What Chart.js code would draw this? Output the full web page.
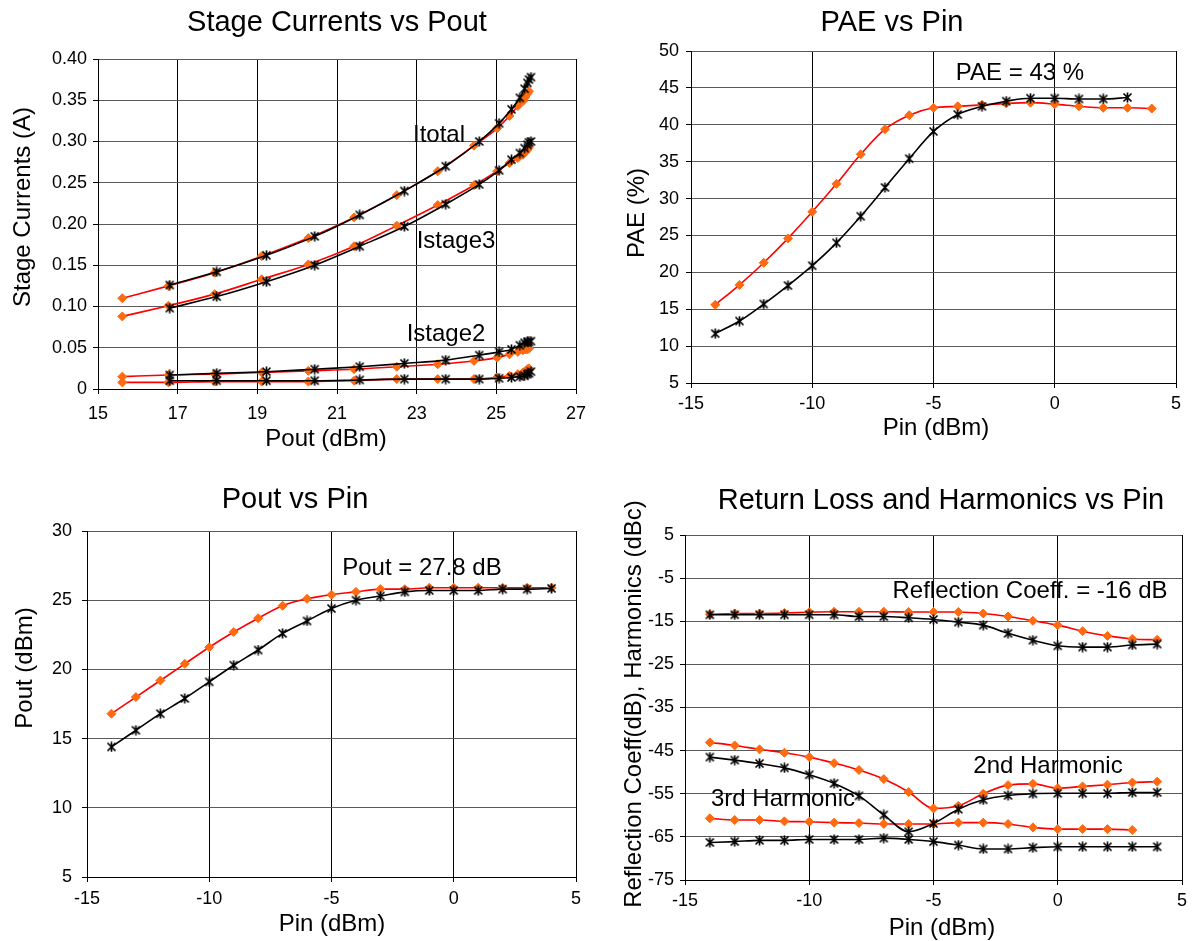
<!DOCTYPE html>
<html>
<head>
<meta charset="utf-8">
<script src="https://cdn.jsdelivr.net/npm/chart.js@4.4.1/dist/chart.umd.min.js"></script>
<style>
  html, body { margin: 0; padding: 0; background: #fff; overflow: hidden; }
  #page { position: relative; width: 1202px; height: 941px; }
  canvas { position: absolute; }
  .t { position: absolute; white-space: nowrap; line-height: 1; color: #000;
       font-family: "Liberation Sans", Arial, sans-serif; transform: translate(-50%, -50%); }
  .title { font-size: 29px; }
  .ax { font-size: 24px; }
  .rot { transform: translate(-50%, -50%) rotate(-90deg); }
  .note { font-size: 24px; }
</style>
</head>
<body>
<div id="page">
  <canvas id="c1" width="600" height="460" style="left:0;top:0"></canvas>
  <canvas id="c2" width="602" height="460" style="left:600px;top:0"></canvas>
  <canvas id="c3" width="600" height="481" style="left:0;top:460px"></canvas>
  <canvas id="c4" width="602" height="481" style="left:600px;top:460px"></canvas>

  <div class="t title" style="left:337px;top:21px">Stage Currents vs Pout</div>
  <div class="t ax rot" style="left:22px;top:207px">Stage Currents (A)</div>
  <div class="t ax" style="left:326px;top:438px">Pout (dBm)</div>
  <div class="t note" style="left:439px;top:134px">Itotal</div>
  <div class="t note" style="left:456px;top:240px">Istage3</div>
  <div class="t note" style="left:446px;top:333px">Istage2</div>

  <div class="t title" style="left:892px;top:21px">PAE vs Pin</div>
  <div class="t ax rot" style="left:636px;top:213px">PAE (%)</div>
  <div class="t ax" style="left:936px;top:427px">Pin (dBm)</div>
  <div class="t note" style="left:1020px;top:72px">PAE = 43 %</div>

  <div class="t title" style="left:295px;top:498px">Pout vs Pin</div>
  <div class="t ax rot" style="left:24px;top:668px">Pout (dBm)</div>
  <div class="t ax" style="left:332px;top:923px">Pin (dBm)</div>
  <div class="t note" style="left:422px;top:567px">Pout = 27.8 dB</div>

  <div class="t title" style="left:941px;top:499px">Return Loss and Harmonics vs Pin</div>
  <div class="t ax rot" style="left:633px;top:704px">Reflection Coeff(dB), Harmonics (dBc)</div>
  <div class="t ax" style="left:942px;top:927px">Pin (dBm)</div>
  <div class="t note" style="left:1030px;top:590px">Reflection Coeff. = -16 dB</div>
  <div class="t note" style="left:1048px;top:765px">2nd Harmonic</div>
  <div class="t note" style="left:783px;top:798px">3rd Harmonic</div>
</div>
<script>
// ---- Stage currents vs Pout ----
const poutRed = [15.61, 16.77, 17.93, 19.11, 20.28, 21.43, 22.50, 23.53, 24.44, 25.02, 25.33, 25.54, 25.67, 25.73, 25.78, 25.82];
const poutBlack = [16.80, 17.98, 19.23, 20.44, 21.57, 22.69, 23.73, 24.57, 25.07, 25.38, 25.59, 25.71, 25.78, 25.82, 25.87];
const itotalRed = [0.110, 0.125, 0.141, 0.161, 0.183, 0.208, 0.235, 0.264, 0.295, 0.316, 0.331, 0.343, 0.349, 0.354, 0.358, 0.361];
const itotalBlack = [0.126, 0.142, 0.162, 0.185, 0.211, 0.240, 0.270, 0.300, 0.322, 0.339, 0.353, 0.364, 0.371, 0.375, 0.378];
const istage3Red = [0.088, 0.101, 0.115, 0.133, 0.151, 0.173, 0.198, 0.223, 0.247, 0.264, 0.274, 0.280, 0.284, 0.287, 0.290, 0.293];
const istage3Black = [0.098, 0.112, 0.130, 0.150, 0.173, 0.197, 0.224, 0.248, 0.265, 0.278, 0.286, 0.292, 0.296, 0.299, 0.300];
const istage2Red = [0.015, 0.017, 0.018, 0.020, 0.022, 0.024, 0.027, 0.030, 0.034, 0.038, 0.042, 0.045, 0.047, 0.048, 0.048, 0.049];
const istage2Black = [0.017, 0.019, 0.021, 0.024, 0.027, 0.031, 0.035, 0.041, 0.045, 0.048, 0.053, 0.056, 0.057, 0.057, 0.058];
const istage1Red = [0.008, 0.008, 0.009, 0.009, 0.009, 0.010, 0.012, 0.012, 0.012, 0.014, 0.016, 0.018, 0.020, 0.022, 0.024, 0.025];
const istage1Black = [0.010, 0.010, 0.010, 0.010, 0.011, 0.012, 0.012, 0.012, 0.013, 0.014, 0.015, 0.016, 0.018, 0.019, 0.021];

// ---- Pin sweeps ----
const pinFull = [-14, -13, -12, -11, -10, -9, -8, -7, -6, -5, -4, -3, -2, -1, 0, 1, 2, 3, 4];
const pinTo3 = [-14, -13, -12, -11, -10, -9, -8, -7, -6, -5, -4, -3, -2, -1, 0, 1, 2, 3];

const paeRed = [15.6, 18.3, 21.3, 24.6, 28.2, 32.0, 36.0, 39.4, 41.3, 42.3, 42.5, 42.7, 42.9, 43.0, 42.8, 42.5, 42.3, 42.3, 42.2];
const paeBlack = [11.7, 13.4, 15.7, 18.2, 20.9, 24.0, 27.6, 31.5, 35.4, 39.1, 41.4, 42.5, 43.2, 43.6, 43.6, 43.5, 43.5, 43.7];

const poutPinRed = [16.8, 18.0, 19.2, 20.4, 21.6, 22.7, 23.7, 24.6, 25.1, 25.4, 25.6, 25.8, 25.8, 25.9, 25.9, 25.9, 25.9, 25.9, 25.9];
const poutPinBlack = [14.4, 15.6, 16.8, 17.9, 19.1, 20.3, 21.4, 22.6, 23.5, 24.4, 25.0, 25.3, 25.6, 25.7, 25.7, 25.7, 25.8, 25.8, 25.85];

const reflRed = [-13.4, -13.2, -13.2, -13.1, -12.9, -12.8, -12.8, -12.8, -12.85, -12.85, -12.85, -13.2, -13.9, -14.9, -15.9, -17.3, -18.4, -19.1, -19.3];
const reflBlack = [-13.5, -13.5, -13.5, -13.5, -13.5, -13.5, -13.9, -13.9, -14.2, -14.6, -15.2, -15.9, -17.8, -19.4, -20.7, -21.0, -21.0, -20.5, -20.3];
const h2Red = [-43.1, -43.8, -44.7, -45.5, -46.5, -47.9, -49.5, -51.6, -54.6, -58.4, -57.8, -55.0, -53.0, -52.7, -53.7, -53.3, -52.9, -52.4, -52.2];
const h2Black = [-46.5, -47.2, -48.0, -49.0, -50.6, -52.6, -55.5, -59.9, -63.8, -61.9, -58.6, -56.4, -55.4, -55.0, -54.9, -54.9, -54.9, -54.7, -54.7];
const h3Red = [-60.7, -61.1, -61.1, -61.4, -61.5, -61.7, -61.8, -62.0, -62.0, -62.0, -61.7, -61.7, -62.0, -62.8, -63.2, -63.2, -63.2, -63.4];
const h3Black = [-66.3, -66.1, -65.8, -65.8, -65.6, -65.6, -65.6, -65.3, -65.6, -66.1, -66.9, -67.8, -67.8, -67.5, -67.3, -67.3, -67.3, -67.3, -67.3];

const FONT = '"Liberation Sans", Arial, sans-serif';
const RED = '#ff0000';
const ORANGE = '#ff6a10';

// asterisk marker like the excel "star"
const star = document.createElement('canvas');
star.width = 11; star.height = 11;
(() => {
    const g = star.getContext('2d');
    g.strokeStyle = '#000';
    g.lineWidth = 1.7;
    g.beginPath();
    g.moveTo(1.5, 1.5); g.lineTo(9.5, 9.5);
    g.moveTo(9.5, 1.5); g.lineTo(1.5, 9.5);
    g.moveTo(5.5, 0.5); g.lineTo(5.5, 10.5);
    g.stroke();
})();

function pts(xs, ys) {
    return ys.map((y, i) => ({ x: xs[i], y: y }));
}

function redSet(label, xs, ys) {
    return {
        label: label, data: pts(xs, ys), order: 2,
        borderColor: RED, borderWidth: 1.6,
        pointStyle: 'rectRot', pointRadius: 4.5,
        pointBackgroundColor: ORANGE, pointBorderColor: ORANGE, pointBorderWidth: 1,
        cubicInterpolationMode: 'monotone', showLine: true
    };
}

function blackSet(label, xs, ys) {
    return {
        label: label, data: pts(xs, ys), order: 1,
        borderColor: '#000', borderWidth: 1.6,
        pointStyle: star, pointRadius: 5,
        cubicInterpolationMode: 'monotone', showLine: true
    };
}

function makeChart(id, cfg) {
    const canvas = document.getElementById(id);
    const a = cfg.area;
    return new Chart(canvas.getContext('2d'), {
        type: 'scatter',
        data: { datasets: cfg.datasets },
        options: {
            responsive: false,
            animation: false,
            events: [],
            layout: { padding: { left: 0, top: a.top, right: canvas.width - a.right, bottom: 0 } },
            plugins: { legend: { display: false }, tooltip: { enabled: false } },
            scales: {
                x: {
                    type: 'linear', min: cfg.xMin, max: cfg.xMax,
                    afterFit: (s) => { s.height = canvas.height - a.bottom; },
                    ticks: { stepSize: cfg.xStep, color: '#000', font: { family: FONT, size: 18 }, padding: cfg.xPad, maxRotation: 0 },
                    grid: { color: '#000', lineWidth: 1, tickLength: 5, tickColor: '#000' },
                    border: { color: '#000', width: 1 }
                },
                y: {
                    type: 'linear', min: cfg.yMin, max: cfg.yMax,
                    afterFit: (s) => { s.width = a.left; },
                    ticks: {
                        stepSize: cfg.yStep, color: '#000', font: { family: FONT, size: 18 }, padding: cfg.yPad,
                        callback: cfg.yFmt || ((v) => v)
                    },
                    grid: { color: '#5a5a5a', lineWidth: 1, tickLength: 5, tickColor: '#000' },
                    border: { color: '#000', width: 1 }
                }
            }
        }
    });
}

makeChart('c1', {
    area: { left: 98, top: 59, right: 576, bottom: 389 },
    xMin: 15, xMax: 27, xStep: 2, yMin: 0, yMax: 0.4, yStep: 0.05, xPad: 9, yPad: 6,
    yFmt: (v) => (Math.abs(v) < 1e-9 ? '0' : v.toFixed(2)),
    datasets: [
        redSet('Itotal', poutRed, itotalRed), blackSet('Itotal', poutBlack, itotalBlack),
        redSet('Istage3', poutRed, istage3Red), blackSet('Istage3', poutBlack, istage3Black),
        redSet('Istage2', poutRed, istage2Red), blackSet('Istage2', poutBlack, istage2Black),
        redSet('Istage1', poutRed, istage1Red), blackSet('Istage1', poutBlack, istage1Black)
    ]
});

makeChart('c2', {
    area: { left: 91, top: 51, right: 576, bottom: 383 },
    xMin: -15, xMax: 5, xStep: 5, yMin: 5, yMax: 50, yStep: 5, xPad: 5, yPad: 7,
    datasets: [redSet('PAE', pinFull, paeRed), blackSet('PAE', pinTo3, paeBlack)]
});

makeChart('c3', {
    area: { left: 87, top: 71, right: 576, bottom: 417 },
    xMin: -15, xMax: 5, xStep: 5, yMin: 5, yMax: 30, yStep: 5, xPad: 6, yPad: 10,
    datasets: [redSet('Pout', pinFull, poutPinRed), blackSet('Pout', pinFull, poutPinBlack)]
});

makeChart('c4', {
    area: { left: 85, top: 75, right: 582, bottom: 420 },
    xMin: -15, xMax: 5, xStep: 5, yMin: -75, yMax: 5, yStep: 10, xPad: 5, yPad: 6,
    datasets: [
        redSet('Reflection', pinFull, reflRed), blackSet('Reflection', pinFull, reflBlack),
        redSet('2nd Harmonic', pinFull, h2Red), blackSet('2nd Harmonic', pinFull, h2Black),
        redSet('3rd Harmonic', pinTo3, h3Red), blackSet('3rd Harmonic', pinFull, h3Black)
    ]
});
</script>
</body>
</html>
